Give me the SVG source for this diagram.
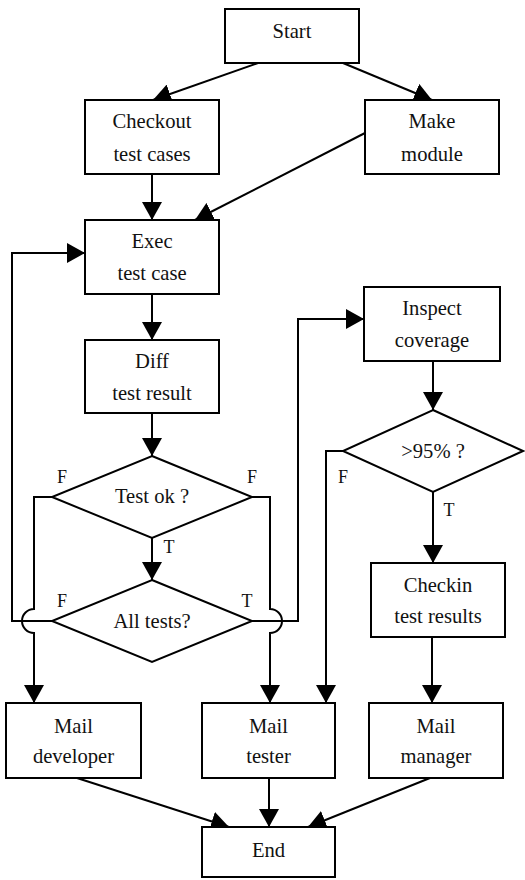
<svg xmlns="http://www.w3.org/2000/svg" width="525" height="880" viewBox="0 0 525 880">
<defs>
<marker id="ah" markerUnits="userSpaceOnUse" markerWidth="18" markerHeight="20" refX="18" refY="10" orient="auto" viewBox="0 0 18 20"><path d="M0,0 L18,10 L0,20 Z" fill="#000"/></marker>
</defs>
<style>
.box{fill:#fff;stroke:#000;stroke-width:2}
text{font-family:'Liberation Serif','DejaVu Serif',serif;text-anchor:middle;fill:#111}
.lbl{font-size:20.6px}
.tf{font-size:18px}
.edge{fill:none;stroke:#000;stroke-width:2}
.arr{marker-end:url(#ah)}
</style>
<rect width="525" height="880" fill="#fff"/>
<g id="connectors">
<path class="edge arr" d="M258,63 L153,100"/>
<path class="edge arr" d="M343,63 L432,100"/>
<path class="edge arr" d="M152,174 L152,220"/>
<path class="edge arr" d="M365,133 L195,220"/>
<path class="edge arr" d="M152,294 L152,340"/>
<path class="edge arr" d="M152,413 L152,456"/>
<path class="edge arr" d="M152,538 L152,580"/>
<path class="edge arr" d="M52,497 H34 V609 A12,12 0 0 0 34,633 V703"/>
<path class="edge arr" d="M52,621 H12 V253 H85"/>
<path class="edge arr" d="M252,497 H270 V609 A12,12 0 0 1 270,633 V703"/>
<path class="edge arr" d="M252,621 H298 V319 H364"/>
<path class="edge arr" d="M433,361 L433,410"/>
<path class="edge arr" d="M343,451 H326 V703"/>
<path class="edge arr" d="M433,492 V563"/>
<path class="edge arr" d="M432,637 V703"/>
<path class="edge arr" d="M77,778 L229,827"/>
<path class="edge arr" d="M269,778 V827"/>
<path class="edge arr" d="M430,778 L308,827"/>
<text class="tf" x="62" y="483">F</text>
<text class="tf" x="252" y="483">F</text>
<text class="tf" x="169" y="553">T</text>
<text class="tf" x="62" y="607">F</text>
<text class="tf" x="247" y="607">T</text>
<text class="tf" x="343" y="483">F</text>
<text class="tf" x="449" y="516">T</text>
</g>
<g id="start"><rect class="box" x="225" y="9" width="134" height="54"/><text class="lbl" x="292" y="38">Start</text></g>
<g id="checkout"><rect class="box" x="85" y="100" width="134" height="74"/><text class="lbl" x="152" y="128">Checkout</text><text class="lbl" x="152" y="161">test cases</text></g>
<g id="make"><rect class="box" x="365" y="100" width="134" height="74"/><text class="lbl" x="432" y="128">Make</text><text class="lbl" x="432" y="161">module</text></g>
<g id="exec"><rect class="box" x="85" y="220" width="134" height="74"/><text class="lbl" x="152" y="248">Exec</text><text class="lbl" x="152" y="280">test case</text></g>
<g id="diff"><rect class="box" x="85" y="340" width="134" height="73"/><text class="lbl" x="152" y="368">Diff</text><text class="lbl" x="152" y="400">test result</text></g>
<g id="testok"><polygon class="box" points="152,456 252,497 152,538 52,497"/><text class="lbl" x="152" y="503">Test ok ?</text></g>
<g id="alltests"><polygon class="box" points="152,580 252,621 152,662 52,621"/><text class="lbl" x="152" y="628">All tests?</text></g>
<g id="inspect"><rect class="box" x="364" y="287" width="136" height="74"/><text class="lbl" x="432" y="315">Inspect</text><text class="lbl" x="432" y="347">coverage</text></g>
<g id="cov"><polygon class="box" points="433,410 523,451 433,492 343,451"/><text class="lbl" x="433" y="458">&gt;95% ?</text></g>
<g id="checkin"><rect class="box" x="371" y="563" width="134" height="74"/><text class="lbl" x="438" y="592">Checkin</text><text class="lbl" x="438" y="623">test results</text></g>
<g id="maildev"><rect class="box" x="6" y="703" width="135" height="75"/><text class="lbl" x="73.5" y="733">Mail</text><text class="lbl" x="73.5" y="763">developer</text></g>
<g id="mailtester"><rect class="box" x="202" y="703" width="133" height="75"/><text class="lbl" x="268.5" y="733">Mail</text><text class="lbl" x="268.5" y="763">tester</text></g>
<g id="mailmgr"><rect class="box" x="369" y="703" width="134" height="75"/><text class="lbl" x="436" y="733">Mail</text><text class="lbl" x="436" y="763">manager</text></g>
<g id="end"><rect class="box" x="202" y="827" width="133" height="50"/><text class="lbl" x="268.5" y="857">End</text></g>
</svg>
